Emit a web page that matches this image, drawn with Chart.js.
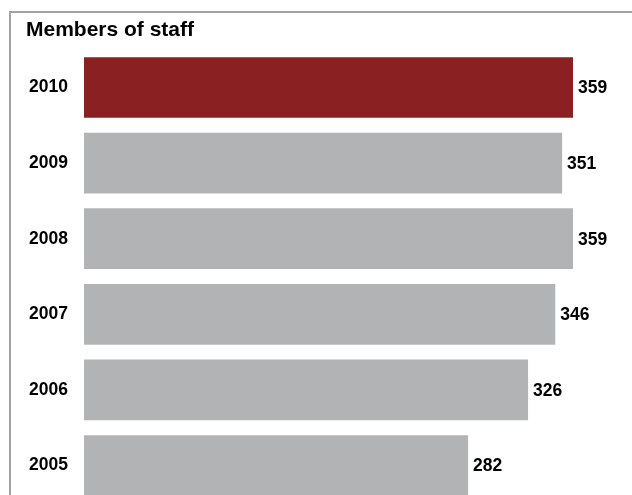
<!DOCTYPE html>
<html>
<head>
<meta charset="utf-8">
<script src="https://cdn.jsdelivr.net/npm/chart.js@4/dist/chart.umd.min.js"></script>
<style>
  html, body { margin: 0; padding: 0; background: #fff; overflow: hidden; }
  .wrap { position: relative; width: 632px; height: 495px; overflow: hidden; }
  .frame {
    position: absolute; left: 9px; top: 11px; width: 700px; height: 600px;
    border-left: 2px solid #a3a3a3; border-top: 2px solid #a3a3a3;
  }
  canvas { position: absolute; left: 0; top: 0; }
</style>
</head>
<body>
<div class="wrap">
  <div class="frame"></div>
  <!-- taller than the window: the last bar is cut off at the bottom edge -->
  <canvas id="staffChart" width="632" height="540"></canvas>
</div>
<script>
// Members of staff by year

const years = ['2010', '2009', '2008', '2007', '2006', '2005'];
const staff = [359, 351, 359, 346, 326, 282];
const highlightYear = '2010';

const RED = '#8b2023';
const GRAY = '#b2b3b4';
const labelFont = { family: "'Liberation Sans', Arial, sans-serif", weight: 'bold', size: 17.5 };

// value labels at the end of each bar
const valueLabels = {
  id: 'valueLabels',
  afterDatasetsDraw(chart) {
    const ctx = chart.ctx;
    const meta = chart.getDatasetMeta(0);
    ctx.save();
    ctx.font = `bold ${labelFont.size}px ${labelFont.family}`;
    ctx.fillStyle = '#000';
    ctx.textAlign = 'left';
    ctx.textBaseline = 'middle';
    meta.data.forEach((bar, i) => {
      ctx.fillText(String(staff[i]), bar.x + 5, bar.y + 1);
    });
    ctx.restore();
  }
};

new Chart(document.getElementById('staffChart'), {
  type: 'bar',
  data: {
    labels: years,
    datasets: [{
      data: staff,
      backgroundColor: years.map(y => y === highlightYear ? RED : GRAY),
      borderWidth: 0,
      barPercentage: 0.803,
      categoryPercentage: 1
    }]
  },
  options: {
    indexAxis: 'y',
    responsive: false,
    animation: false,
    layout: { padding: { left: 26, right: 3.15, top: 0, bottom: 36.7 } },
    plugins: {
      legend: { display: false },
      tooltip: { enabled: false },
      title: {
        display: true,
        text: 'Members of staff',
        align: 'start',
        color: '#000',
        font: { family: "'Liberation Sans', Arial, sans-serif", weight: 'bold', size: 21 },
        padding: { top: 18, bottom: 6.5 }
      }
    },
    scales: {
      x: {
        display: false,
        min: 0,
        max: 400
      },
      y: {
        grid: { display: false, drawTicks: false },
        border: { display: false },
        ticks: { color: '#000', font: labelFont, padding: 16 },
        afterFit(scale) { scale.width = 58; }
      }
    }
  },
  plugins: [valueLabels]
});
</script>
</body>
</html>
